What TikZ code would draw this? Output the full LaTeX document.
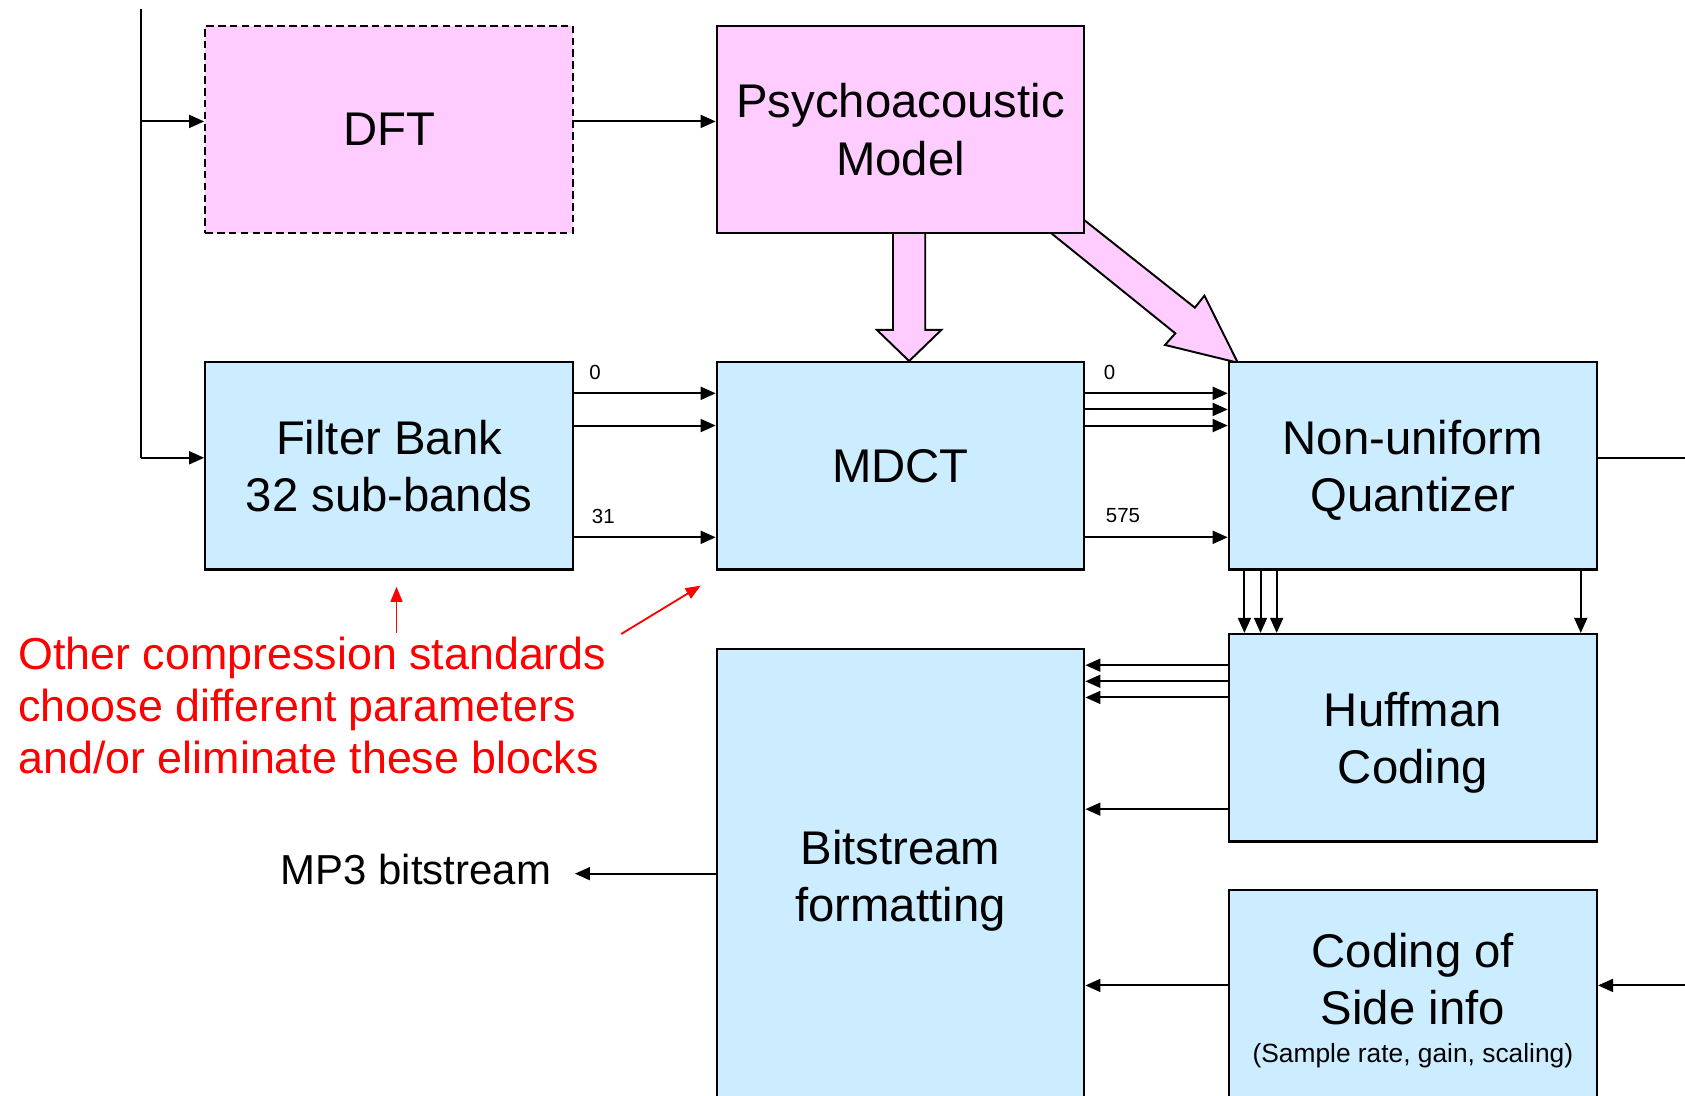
\documentclass[tikz,border=0pt]{standalone}
\usepackage{fontspec}
\setmainfont{Liberation Sans}
\usetikzlibrary{arrows.meta,backgrounds}
\definecolor{pinkf}{HTML}{FFCCFF}
\definecolor{bluef}{HTML}{CCECFF}
\newcommand\lastl[1]{\smash{#1}}
\begin{document}
\begin{tikzpicture}[x=1pt,y=-1pt,
  blk/.style={draw=black, line width=2pt, minimum width=342pt, minimum height=193pt, align=center, font=\fontsize{44}{53.5}\selectfont, inner sep=0pt},
  pinkbox/.style={blk, fill=pinkf},
  bluebox/.style={blk, fill=bluef},
  arr/.style={line width=1.9pt, -{Triangle[length=14pt,width=12pt]}},
  ln/.style={line width=1.9pt},
  small/.style={font=\fontsize{19}{22}\selectfont, inner sep=0pt},
  redarr/.style={red, line width=1.7pt, -{Triangle[length=14pt,width=11pt]}},
  bigarr/.style={fill=pinkf, draw=black, line width=1.8pt, line join=miter}
]
\useasboundingbox (0,0) rectangle (1568,1019);
\clip (0,0) rectangle (1568,1019);

\node[pinkbox, dash pattern=on 7pt off 4pt] (dft) at (362,120.5) {DFT};
\node[pinkbox] (psy) at (838,120.5) {Psychoacoustic\\\lastl{Model}};
\node[bluebox] (fb) at (362,433.5) {Filter Bank\\\lastl{32 sub-bands}};
\node[bluebox] (mdct) at (838,433.5) {MDCT};
\node[bluebox, minimum width=342.5pt] (quant) at (1314.75,433.5) {Non-uniform\\\lastl{Quantizer}};
\node[bluebox, minimum width=342.5pt] (huff) at (1314.75,686.5) {Huffman\\\lastl{Coding}};
\node[bluebox, minimum height=422pt] (bit) at (838,815) {Bitstream\\\lastl{formatting}};
\node[bluebox, minimum width=342.5pt, minimum height=220pt] (side) at (1314.75,938) {};
\node[font=\fontsize{44}{53.5}\selectfont, align=center, inner sep=0pt] (sidetxt) at (1314.75,911) {Coding of\\Side info};
\node[font=\fontsize{24.5}{28}\selectfont, inner sep=0pt] (sidesm) at (1314.75,982) {(Sample rate, gain, scaling)};

\begin{pgfonlayer}{background}
\draw[bigarr] (831,210) -- (831,307) -- (816,307) -- (846,336) -- (876,307) -- (861,307) -- (861,210) -- cycle;
\draw[bigarr] (960,202.3) -- (1093.7,310.2) -- (1084.1,321) -- (1151.8,337.5) -- (1120.8,275.1) -- (1111.9,286.3) -- (990,189.8) -- cycle;
\end{pgfonlayer}

% input line
\coordinate (in) at (131,8);
\coordinate (jA) at (131,113);
\coordinate (jB) at (131,426);
\draw[ln] (in) -- (jB);
\draw[arr] (jA) -- (dft.west |- jA);
\draw[arr] (jB) -- (fb.west |- jB);
\draw[arr] (dft.east |- jA) -- (psy.west |- jA);

% filter bank -> MDCT
\foreach \y in {366,396,500} {\draw[arr] (fb.east |- 0,\y) -- (mdct.west |- 0,\y);}
\node[small] (l0a) at (553.7,346.5) {0};
\node[small] (l31) at (561.4,480.8) {31};

% MDCT -> quantizer
\foreach \y in {366,381,396,500} {\draw[arr] (mdct.east |- 0,\y) -- (quant.west |- 0,\y);}
\node[small] (l0b) at (1032.5,346.5) {0};
\node[small] (l575) at (1045,480) {575};

% quantizer out
\coordinate (qout) at (1568,426);
\draw[ln] (quant.east |- qout) -- (qout);

% quantizer -> huffman
\foreach \x in {1158,1173,1188,1471} {\draw[arr] (quant.south -| \x,0) -- (huff.north -| \x,0);}

% huffman -> bitstream
\foreach \y in {619,634,649,753} {\draw[arr] (huff.west |- 0,\y) -- (bit.east |- 0,\y);}

% side info
\draw[arr] (side.west |- 0,917) -- (bit.east |- 0,917);
\coordinate (sin) at (1568,917);
\draw[arr] (sin) -- (side.east |- sin);

% MP3 output
\node[font=\fontsize{39}{46}\selectfont, anchor=east, inner sep=0pt] (mp3) at (513,809) {MP3 bitstream};
\coordinate (mp3tip) at (535,813);
\draw[arr] (bit.west |- mp3tip) -- (mp3tip);

% red note
\node[red, font=\fontsize{41.7}{48.5}\selectfont, align=left, anchor=west, inner sep=0pt] (note) at (17,656.5) {Other compression standards\\choose different parameters\\and/or eliminate these blocks};
\coordinate (r1s) at (369,589);
\coordinate (r1t) at (369,546);
\coordinate (r2s) at (578,590);
\coordinate (r2t) at (652,545);
\draw[redarr] (r1s) -- (r1t);
\draw[redarr] (r2s) -- (r2t);
\end{tikzpicture}
\end{document}
